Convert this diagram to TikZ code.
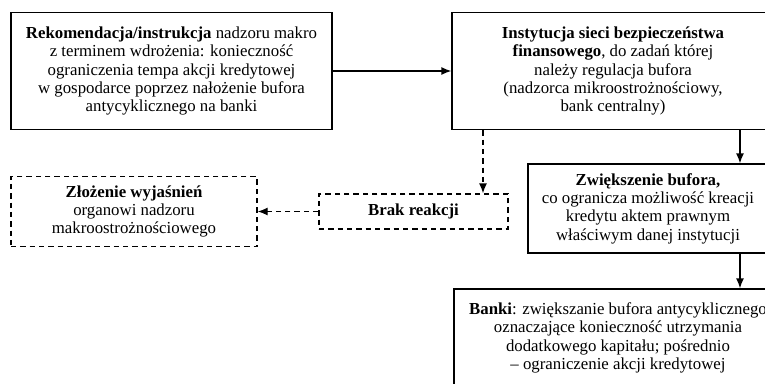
\documentclass[tikz,border=0pt]{standalone}
\usepackage{fontspec}
\setmainfont{Liberation Serif}
\usetikzlibrary{arrows.meta}

\begin{document}
\begin{tikzpicture}[x=0.75pt,y=-0.75pt,>={Latex[length=7.5pt,width=6pt]},
		box/.style={draw,line width=1pt,align=center,inner sep=0pt,font=\fontsize{12.6}{13.8}\selectfont},
		dbox/.style={box,dash pattern=on 4pt off 3pt},
		dline/.style={line width=1pt,dash pattern=on 4pt off 3pt,->},
		sline/.style={line width=1pt,->}]
			\clip (0,0) rectangle (765,383);

			% Upper boxes
			\node[box,minimum width=240.75pt,minimum height=87.75pt] (rek) at (171.5,71) {\textbf{Rekomendacja/instrukcja} nadzoru makro\\z terminem wdrożenia: konieczność\\ograniczenia tempa akcji kredytowej\\w gospodarce poprzez nałożenie bufora\\antycyklicznego na banki};
			\node[box,minimum width=241.5pt,minimum height=87.75pt] (inst) at (613,71) {\textbf{Instytucja sieci bezpieczeństwa}\\\textbf{finansowego}, do zadań której\\należy regulacja bufora\\(nadzorca mikroostrożnościowy,\\bank centralny)};

			% Dashed branch
			\node[dbox,minimum width=141.75pt,minimum height=26.25pt] (brak) at (413.5,211.5) {\textbf{Brak reakcji}};
			\node[dbox,minimum width=184.5pt,minimum height=52.5pt] (zloz) at (134,211.5) {\textbf{Złożenie wyjaśnień}\\organowi nadzoru\\makroostrożnościowego};

			% Solid branch
			\node[box,minimum width=180pt,minimum height=66.75pt] (zwiek) at (648,208.5) {\textbf{Zwiększenie bufora,}\\co ogranicza możliwość kreacji\\kredytu aktem prawnym\\właściwym danej instytucji};
			\node[box,minimum width=246pt,minimum height=73.5pt] (banki) at (618,338) {\textbf{Banki}: zwiększanie bufora antycyklicznego\\oznaczające konieczność utrzymania\\dodatkowego kapitału; pośrednio\\– ograniczenie akcji kredytowej};

			% Split points under inst
			\coordinate (dsplit) at (483,0);
			\coordinate (ssplit) at (740,0);

			% Arrows
			\draw[sline] (rek) to (inst);
			\draw[dline] (inst.south -| dsplit) to (brak.north -| dsplit);
			\draw[dline] (brak) to (zloz);
			\draw[sline] (inst.south -| ssplit) to (zwiek.north -| ssplit);
			\draw[sline] (zwiek.south -| ssplit) to (banki.north -| ssplit);

		\end{tikzpicture}
\end{document}
